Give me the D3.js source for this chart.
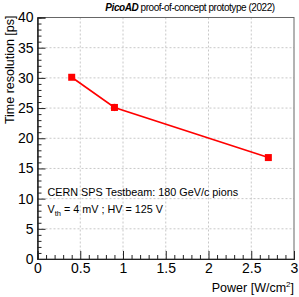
<!DOCTYPE html>
<html>
<head>
<meta charset="utf-8">
<script src="https://cdn.jsdelivr.net/npm/d3@7"></script>
<style>
  html, body { margin: 0; padding: 0; background: #fff; }
  svg { display: block; font-family: "Liberation Sans", Arial, sans-serif; }
</style>
</head>
<body>
<svg id="chart" width="299" height="297"></svg>
<script>
/* PicoAD time resolution vs power */
var powerVals = [0.40, 0.90, 2.70];
var timeRes = [30.1, 25.1, 16.8];
var timeErr = [0.3, 0.6, 0.3];
var xTicks = [0, 0.5, 1, 1.5, 2, 2.5, 3];
var yTicks = [0, 5, 10, 15, 20, 25, 30, 35, 40];

var svg = d3.select('#chart');
var L = 37.5, R = 294, T = 17.5, B = 259;
var x = d3.scaleLinear().domain([0, 3]).range([L, R]);
var y = d3.scaleLinear().domain([0, 40]).range([B, T]);

// grid
var grid = svg.append('g').attr('stroke', '#c8c8c8').attr('stroke-dasharray', '2,2').attr('stroke-width', 1);
xTicks.slice(1, -1).forEach(function (v) {
  grid.append('line').attr('x1', x(v)).attr('x2', x(v)).attr('y1', T).attr('y2', B);
});
yTicks.slice(1, -1).forEach(function (v) {
  grid.append('line').attr('x1', L).attr('x2', R).attr('y1', y(v)).attr('y2', y(v));
});

// frame
svg.append('rect').attr('x', L).attr('y', T).attr('width', R - L).attr('height', B - T)
  .attr('fill', 'none').attr('stroke', '#666').attr('stroke-width', 1);

// axes (ticks inside)
var xAx = d3.axisBottom(x).tickValues(xTicks).tickSize(-8).tickPadding(4).tickFormat(d3.format('~g'));
var gx = svg.append('g').attr('transform', 'translate(0,' + B + ')').call(xAx);
var xMinor = d3.range(0, 3.0001, 0.1).filter(function (v) { return Math.abs(v * 2 - Math.round(v * 2)) > 1e-6; });
svg.append('g').attr('transform', 'translate(0,' + B + ')')
  .call(d3.axisBottom(x).tickValues(xMinor).tickSize(-4).tickFormat(''));

var yAx = d3.axisLeft(y).tickValues(yTicks).tickSize(-8).tickPadding(4);
var gy = svg.append('g').attr('transform', 'translate(' + L + ',0)').call(yAx);
var yMinor = d3.range(0, 41, 1).filter(function (v) { return v % 5 !== 0; });
svg.append('g').attr('transform', 'translate(' + L + ',0)')
  .call(d3.axisLeft(y).tickValues(yMinor).tickSize(-4).tickFormat(''));

svg.selectAll('.domain').attr('stroke', '#222');
svg.selectAll('.tick line').attr('stroke', '#222');
svg.selectAll('.tick text').attr('font-size', 14).attr('font-family', '"Liberation Sans", Arial, sans-serif').attr('fill', '#000');

// axis titles
svg.append('text').attr('x', R).attr('y', 292).attr('text-anchor', 'end').attr('font-size', 12.5)
  .html('Power [W/cm<tspan dy="-5" font-size="8">2</tspan><tspan dy="5">]</tspan>');
svg.append('text').attr('transform', 'translate(14,' + (T - 2) + ') rotate(-90)').attr('text-anchor', 'end')
  .attr('font-size', 12.5).text('Time resolution [ps]');

// title
svg.append('text').attr('x', 190).attr('y', 11).attr('text-anchor', 'middle').attr('font-size', 10)
  .attr('letter-spacing', '-0.45px')
  .html('<tspan font-weight="bold" font-style="italic">PicoAD</tspan> proof-of-concept prototype (2022)');

// annotations
svg.append('text').attr('x', 47.5).attr('y', 195.5).attr('font-size', 10.8).text('CERN SPS Testbeam: 180 GeV/c pions');
svg.append('text').attr('x', 47.5).attr('y', 213).attr('font-size', 10.8)
  .html('V<tspan dy="3" font-size="7.5">th</tspan><tspan dy="-3"> = 4 mV ; HV = 125 V</tspan>');

// data
var pts = powerVals.map(function (p, i) { return { x: p, y: timeRes[i], e: timeErr[i] }; });
var red = '#ff0000';
svg.append('path').datum(pts).attr('fill', 'none').attr('stroke', red).attr('stroke-width', 1.6)
  .attr('d', d3.line().x(function (d) { return x(d.x); }).y(function (d) { return y(d.y); }));
svg.selectAll('.err').data(pts).enter().append('line').attr('class', 'err')
  .attr('x1', function (d) { return x(d.x); }).attr('x2', function (d) { return x(d.x); })
  .attr('y1', function (d) { return y(d.y - d.e); }).attr('y2', function (d) { return y(d.y + d.e); })
  .attr('stroke', red).attr('stroke-width', 1.6);
svg.selectAll('.mk').data(pts).enter().append('rect').attr('class', 'mk')
  .attr('x', function (d) { return x(d.x) - 3.5; }).attr('y', function (d) { return y(d.y) - 3.5; })
  .attr('width', 7).attr('height', 7).attr('fill', red);
</script>
</body>
</html>
